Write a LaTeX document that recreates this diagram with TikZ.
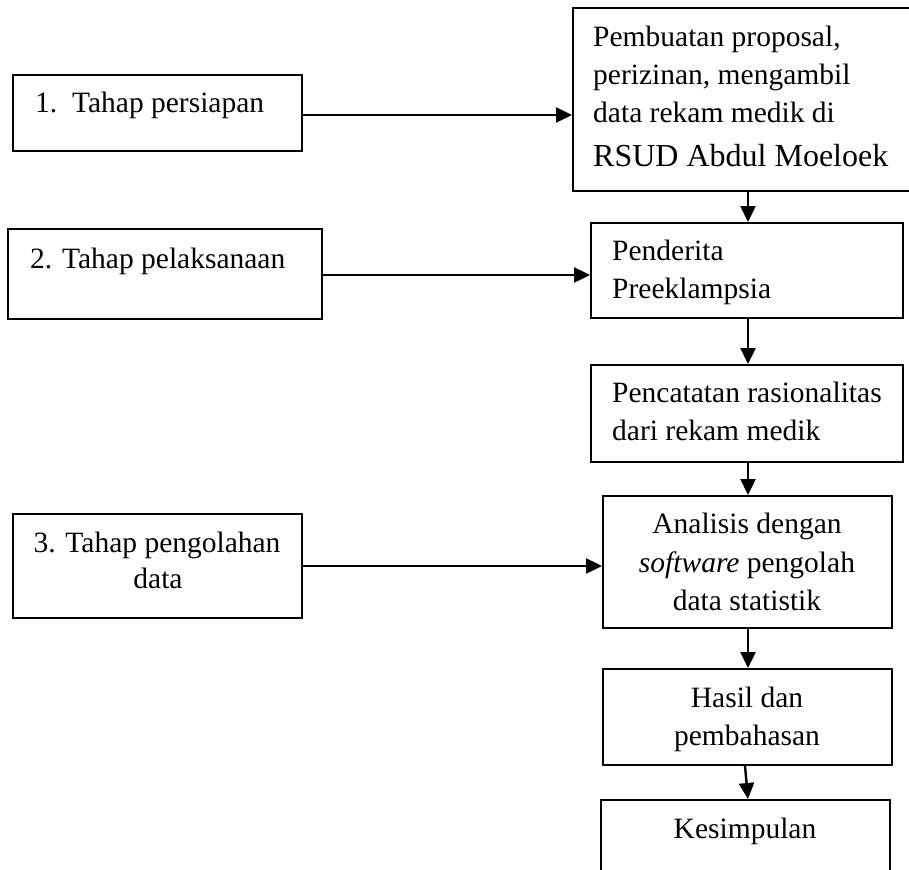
\documentclass[tikz,border=0pt]{standalone}
\usepackage{fontspec}
\setmainfont{Liberation Serif}
\usetikzlibrary{arrows.meta}
\tikzset{
  box/.style={draw=black, line width=2pt, inner sep=0pt, rectangle},
  txt/.style={inner sep=0pt, font=\fontsize{29.5}{36}\selectfont},
  txtbig/.style={inner sep=0pt, font=\fontsize{32}{38}\selectfont},
  arr/.style={line width=2.4pt, -{Triangle[length=16pt,width=15pt]}}
}
\begin{document}
\begin{tikzpicture}
\useasboundingbox (0,0) rectangle (909pt,-869pt);
% boxes
\node[box, minimum width=289pt, minimum height=76pt] (b1) at (157.5pt,-113pt) {};
\node[box, minimum width=342pt, minimum height=183pt] (bA) at (744pt,-99.5pt) {};
\node[box, minimum width=314pt, minimum height=90pt] (b2) at (165pt,-274pt) {};
\node[box, minimum width=312pt, minimum height=95pt] (bB) at (747pt,-270.5pt) {};
\node[box, minimum width=312pt, minimum height=97pt] (bC) at (747pt,-413.5pt) {};
\node[box, minimum width=289pt, minimum height=104pt] (b3) at (157.5pt,-566pt) {};
\node[box, minimum width=289pt, minimum height=132pt] (bD) at (747.5pt,-562pt) {};
\node[box, minimum width=289pt, minimum height=96pt] (bE) at (747.5pt,-717pt) {};
\node[box, minimum width=289pt, minimum height=100pt] (bF) at (745.5pt,-850pt) {};
% texts
\node[txt, anchor=base west] (t1) at (35pt,-113pt) {1.\hspace{0.5em}Tahap persiapan};
\node[txt, anchor=base west] (tA1) at (593pt,-47pt) {Pembuatan proposal,};
\node[txt, anchor=base west] (tA2) at (593pt,-85pt) {perizinan, mengambil};
\node[txt, anchor=base west] (tA3) at (593pt,-123pt) {data rekam medik di};
\node[txtbig, anchor=base west] (tA4) at (593pt,-167pt) {RSUD Abdul Moeloek};
\node[txt, anchor=base west] (t2) at (30pt,-268pt) {2. Tahap pelaksanaan};
\node[txt, anchor=base west] (tB1) at (612pt,-260pt) {Penderita};
\node[txt, anchor=base west] (tB2) at (612pt,-298pt) {Preeklampsia};
\node[txt, anchor=base west] (tC1) at (612pt,-402pt) {Pencatatan rasionalitas};
\node[txt, anchor=base west] (tC2) at (612pt,-440pt) {dari rekam medik};
\node[txt, anchor=base] (t3a) at (157pt,-552pt) {3. Tahap pengolahan};
\node[txt, anchor=base] (t3b) at (158pt,-588pt) {data};
\node[txt, anchor=base] (tD1) at (747pt,-533pt) {Analisis dengan};
\node[txt, anchor=base] (tD2) at (747pt,-572pt) {\textit{software} pengolah};
\node[txt, anchor=base] (tD3) at (747pt,-610pt) {data statistik};
\node[txt, anchor=base] (tE1) at (747pt,-707pt) {Hasil dan};
\node[txt, anchor=base] (tE2) at (747pt,-745pt) {pembahasan};
\node[txt, anchor=base] (tF1) at (745pt,-838pt) {Kesimpulan};
% helper coordinates
\coordinate (y1) at (0,-115pt);
\coordinate (y2) at (0,-275pt);
\coordinate (y3) at (0,-566pt);
\coordinate (xc) at (748pt,0);
\coordinate (xe) at (745pt,0);
% connectors
\draw[arr] (b1.east |- y1) -- (bA.west |- y1);
\draw[arr] (b2.east |- y2) -- (bB.west |- y2);
\draw[arr] (b3.east |- y3) -- (bD.west |- y3);
\draw[arr] (bA.south -| xc) -- (bB.north -| xc);
\draw[arr] (bB.south -| xc) -- (bC.north -| xc);
\draw[arr] (bC.south -| xc) -- (bD.north -| xc);
\draw[arr] (bD.south -| xc) -- (bE.north -| xc);
\draw[arr] (bE.south -| xe) -- (bF.north -| xc);
\end{tikzpicture}
\end{document}
